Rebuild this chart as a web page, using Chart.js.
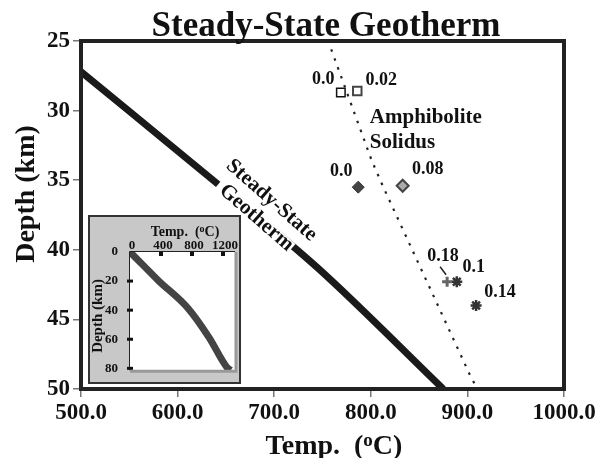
<!DOCTYPE html>
<html>
<head>
<meta charset="utf-8">
<script src="https://cdn.jsdelivr.net/npm/chart.js@4.4.1/dist/chart.umd.min.js"></script>
<style>
  body { margin: 0; background: #fff; }
  #wrap { position: relative; width: 612px; height: 458px; }
  #inset { position: absolute; left: 88px; top: 215px; width: 153px; height: 169px;
           box-sizing: border-box; border: 2px solid #333; background: #c8c8c8; }
  #inset canvas { display: block; }
</style>
</head>
<body>
<div id="wrap">
  <canvas id="main" width="612" height="458"></canvas>
  <div id="inset"><canvas id="insetChart" width="149" height="165"></canvas></div>
</div>
<script>
// values
const tempTicks = [500, 600, 700, 800, 900, 1000];
const depthTicks = [25, 30, 35, 40, 45, 50];

const geothermT = [500, 642, 745, 875];
const geothermDepth = [27.2, 35.3, 41.3, 50];

const solidusT = [759, 780, 801, 813, 902, 908];
const solidusDepth = [25.6, 29.6, 33.6, 35.5, 48.9, 49.7];

const sampleT = [769, 786, 787, 833, 879, 889, 909];
const sampleDepth = [28.7, 28.6, 35.5, 35.4, 42.3, 42.3, 44.0];
const sampleLabels = ['0.0', '0.02', '0.0', '0.08', '0.18', '0.1', '0.14'];

// inset: full geotherm
const insetTempTicks = [0, 400, 800, 1200];
const insetDepthTicks = [0, 20, 40, 60, 80];
const insetT = [0, 181, 361, 748, 1019, 1252, 1300];
const insetDepth = [0, 9.7, 19.4, 38.7, 58.7, 79.4, 81.3];

// where the "Geotherm" word breaks the line (data coords)
const geothermGap = [[642, 35.3], [718, 39.9]];

const serif = "'Liberation Serif', 'Times New Roman', serif";
Chart.defaults.font.family = serif;
Chart.defaults.font.weight = 'bold';
Chart.defaults.color = '#111';

// marker looks + label offsets (px)
const sampleMarks = [
  { style: 'rect', r: 6, bg: '#fff', line: '#111', w: 1.5, dx: -17.5, dy: -13 },
  { style: 'rect', r: 6, bg: '#fff', line: '#444', w: 2, dx: 24, dy: -11 },
  { style: 'rectRot', r: 6, bg: '#444', line: '#333', w: 1, dx: -17, dy: -16 },
  { style: 'rectRot', r: 6, bg: '#aaa', line: '#444', w: 2, dx: 25, dy: -16 },
  { style: 'cross', r: 5, bg: '#666', line: '#666', w: 3, dx: -4, dy: -25 },
  { style: 'star', r: 5.5, bg: '#333', line: '#333', w: 2.5, dx: 17, dy: -14 },
  { style: 'star', r: 5.5, bg: '#333', line: '#333', w: 2.5, dx: 24, dy: -13 }
];

function drawSupText(ctx, parts, cx, baseline, size, supRatio, rise) {
  const big = 'bold ' + size + 'px ' + serif;
  const small = 'bold ' + Math.round(size * supRatio) + 'px ' + serif;
  ctx.font = big;
  const w1 = ctx.measureText(parts[0]).width;
  const w3 = ctx.measureText(parts[2]).width;
  ctx.font = small;
  const w2 = ctx.measureText(parts[1]).width;
  const x0 = cx - (w1 + w2 + w3) / 2;
  ctx.textAlign = 'left';
  ctx.textBaseline = 'alphabetic';
  ctx.font = big;
  ctx.fillText(parts[0], x0, baseline);
  ctx.fillText(parts[2], x0 + w1 + w2, baseline);
  ctx.font = small;
  ctx.fillText(parts[1], x0 + w1, baseline - rise);
}

const mainDecor = {
  id: 'mainDecor',
  afterDatasetsDraw(chart) {
    const { ctx, chartArea: a, scales: { x, y } } = chart;
    ctx.save();
    ctx.fillStyle = '#111';

    // gap in the geotherm + its label
    const gx1 = x.getPixelForValue(geothermGap[0][0]), gy1 = y.getPixelForValue(geothermGap[0][1]);
    const gx2 = x.getPixelForValue(geothermGap[1][0]), gy2 = y.getPixelForValue(geothermGap[1][1]);
    const ang = Math.atan2(gy2 - gy1, gx2 - gx1);
    const len = Math.hypot(gx2 - gx1, gy2 - gy1);
    ctx.save();
    ctx.translate((gx1 + gx2) / 2, (gy1 + gy2) / 2);
    ctx.rotate(ang);
    ctx.fillStyle = '#fff';
    ctx.fillRect(-len / 2, -6, len, 12);
    ctx.fillStyle = '#111';
    ctx.font = 'bold 21px ' + serif;
    ctx.textAlign = 'center';
    ctx.textBaseline = 'middle';
    ctx.fillText('Steady-State', 2, -23);
    ctx.fillText('Geotherm', 2, 0);
    ctx.restore();

    // sample labels
    ctx.font = 'bold 18px ' + serif;
    ctx.textAlign = 'center';
    ctx.textBaseline = 'middle';
    sampleLabels.forEach((lab, i) => {
      const px = x.getPixelForValue(sampleT[i]);
      const py = y.getPixelForValue(sampleDepth[i]);
      ctx.fillText(lab, px + sampleMarks[i].dx, py + sampleMarks[i].dy);
    });
    // small leader from "0.18" to its cross
    const lx = x.getPixelForValue(sampleT[4]), ly = y.getPixelForValue(sampleDepth[4]);
    ctx.strokeStyle = '#222';
    ctx.lineWidth = 1.5;
    ctx.beginPath();
    ctx.moveTo(lx - 7, ly - 15);
    ctx.lineTo(lx - 1, ly - 7);
    ctx.stroke();

    // solidus label
    ctx.font = 'bold 21px ' + serif;
    ctx.textAlign = 'left';
    ctx.fillText('Amphibolite', x.getPixelForValue(799), y.getPixelForValue(30.5));
    ctx.fillText('Solidus', x.getPixelForValue(799), y.getPixelForValue(32.3));

    // frame
    ctx.strokeStyle = '#222';
    ctx.lineWidth = 4;
    ctx.strokeRect(a.left, a.top, a.right - a.left, a.bottom - a.top);

    // titles
    ctx.fillStyle = '#111';
    ctx.font = 'bold 35px ' + serif;
    ctx.textAlign = 'center';
    ctx.textBaseline = 'alphabetic';
    ctx.fillText('Steady-State Geotherm', 326, 36);

    drawSupText(ctx, ['Temp.  (', 'o', 'C)'], 334, 454, 28, 0.68, 8);

    ctx.save();
    ctx.translate(27, 194);
    ctx.rotate(-Math.PI / 2);
    ctx.font = 'bold 28px ' + serif;
    ctx.textAlign = 'center';
    ctx.textBaseline = 'middle';
    ctx.fillText('Depth (km)', 0, 0);
    ctx.restore();

    ctx.restore();
  }
};

const sampleSets = sampleT.map((t, i) => ({
  data: [{ x: t, y: sampleDepth[i] }],
  showLine: false,
  pointStyle: sampleMarks[i].style,
  pointRadius: sampleMarks[i].r,
  pointBackgroundColor: sampleMarks[i].bg,
  pointBorderColor: sampleMarks[i].line,
  pointBorderWidth: sampleMarks[i].w
}));

new Chart(document.getElementById('main'), {
  type: 'scatter',
  data: {
    datasets: [
      {
        data: geothermT.map((t, i) => ({ x: t, y: geothermDepth[i] })),
        showLine: true,
        borderColor: '#1a1a1a',
        borderWidth: 7,
        pointRadius: 0,
        cubicInterpolationMode: 'monotone',
        borderCapStyle: 'butt'
      },
      {
        data: solidusT.map((t, i) => ({ x: t, y: solidusDepth[i] })),
        showLine: true,
        borderColor: '#222',
        borderWidth: 2.2,
        borderDash: [2.5, 7],
        pointRadius: 0
      },
      ...sampleSets
    ]
  },
  options: {
    responsive: false,
    animation: false,
    layout: { padding: { top: 41, right: 48, bottom: 0, left: 0 } },
    plugins: { legend: { display: false }, tooltip: { enabled: false } },
    scales: {
      x: {
        type: 'linear',
        min: 500,
        max: 1000,
        afterBuildTicks: s => { s.ticks = tempTicks.map(v => ({ value: v })); },
        afterFit: s => { s.height = 69; },
        ticks: {
          font: { size: 23, weight: 'bold' },
          color: '#111',
          padding: 2,
          maxRotation: 0,
          callback: v => Number(v).toFixed(1)
        },
        grid: { display: true, drawOnChartArea: false, drawTicks: true, tickLength: 8, color: '#777', lineWidth: 1.5 },
        border: { display: false }
      },
      y: {
        type: 'linear',
        min: 25,
        max: 50,
        reverse: true,
        afterBuildTicks: s => { s.ticks = depthTicks.map(v => ({ value: v })); },
        afterFit: s => { s.width = 81; },
        ticks: { font: { size: 23, weight: 'bold' }, color: '#111', padding: 3 },
        grid: { display: true, drawOnChartArea: false, drawTicks: true, tickLength: 8, color: '#777', lineWidth: 1.5 },
        border: { display: false }
      }
    }
  },
  plugins: [mainDecor]
});

// inset chart
const insetDecor = {
  id: 'insetDecor',
  beforeDatasetsDraw(chart) {
    const { ctx, chartArea: a } = chart;
    ctx.save();
    ctx.fillStyle = '#fff';
    ctx.fillRect(a.left, a.top, a.right - a.left, a.bottom - a.top);
    ctx.restore();
  },
  afterDatasetsDraw(chart) {
    const { ctx, chartArea: a, scales: { x, y } } = chart;
    ctx.save();
    // plot edges
    ctx.strokeStyle = '#999';
    ctx.lineWidth = 3;
    ctx.beginPath();
    ctx.moveTo(a.right + 1, a.top);
    ctx.lineTo(a.right + 1, a.bottom + 1);
    ctx.lineTo(a.left, a.bottom + 1);
    ctx.stroke();
    ctx.strokeStyle = '#222';
    ctx.lineWidth = 1;
    ctx.beginPath();
    ctx.moveTo(a.left - 0.5, a.bottom);
    ctx.lineTo(a.left - 0.5, a.top - 0.5);
    ctx.lineTo(a.right, a.top - 0.5);
    ctx.stroke();

    // tick marks + top tick labels
    ctx.fillStyle = '#111';
    ctx.font = 'bold 13px ' + serif;
    ctx.textAlign = 'center';
    ctx.textBaseline = 'alphabetic';
    insetTempTicks.forEach(v => {
      const px = x.getPixelForValue(v);
      if (v > 0) ctx.fillRect(px - 2, a.top, 4, 4);
      ctx.fillText(String(v), px + 2, a.top - 3);
    });
    insetDepthTicks.slice(1).forEach(v => {
      const py = y.getPixelForValue(v);
      ctx.fillRect(a.left - 3, py - 1.5, 6, 3);
    });

    // titles
    drawSupText(ctx, ['Temp.  (', 'o', 'C)'], 95, 19, 14, 0.7, 4);
    ctx.translate(8, 99);
    ctx.rotate(-Math.PI / 2);
    ctx.font = 'bold 15px ' + serif;
    ctx.textAlign = 'center';
    ctx.textBaseline = 'middle';
    ctx.fillText('Depth (km)', 0, 0);
    ctx.restore();
  }
};

new Chart(document.getElementById('insetChart'), {
  type: 'scatter',
  data: {
    datasets: [{
      data: insetT.map((t, i) => ({ x: t, y: insetDepth[i] })),
      showLine: true,
      borderColor: '#444',
      borderWidth: 7,
      pointRadius: 0,
      cubicInterpolationMode: 'monotone'
    }]
  },
  options: {
    responsive: false,
    animation: false,
    layout: { padding: { top: 0, right: 4, bottom: 4, left: 0 } },
    plugins: { legend: { display: false }, tooltip: { enabled: false } },
    scales: {
      x: {
        type: 'linear',
        position: 'top',
        min: 0,
        max: 1355,
        afterBuildTicks: s => { s.ticks = insetTempTicks.map(v => ({ value: v })); },
        afterFit: s => { s.height = 35; },
        ticks: { display: false },
        grid: { display: false },
        border: { display: false }
      },
      y: {
        type: 'linear',
        min: 0,
        max: 81.3,
        reverse: true,
        afterBuildTicks: s => { s.ticks = insetDepthTicks.map(v => ({ value: v })); },
        afterFit: s => { s.width = 40; },
        ticks: { font: { size: 13, weight: 'bold' }, color: '#111', padding: 4, callback: v => String(v) },
        grid: { display: false },
        border: { display: false }
      }
    }
  },
  plugins: [insetDecor]
});
</script>
</body>
</html>
